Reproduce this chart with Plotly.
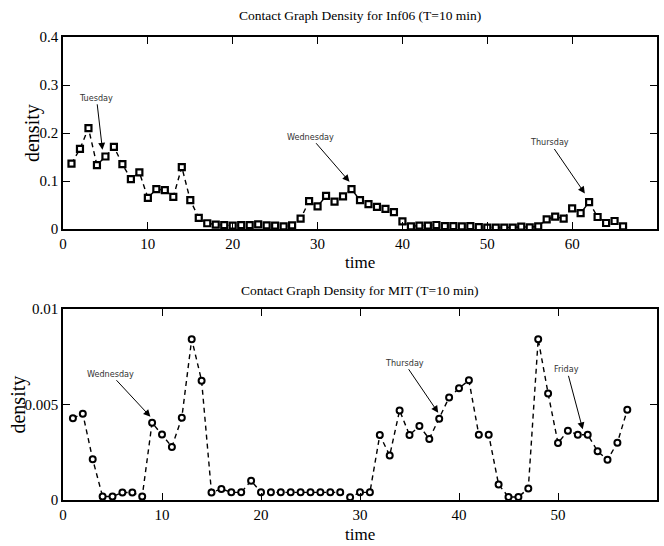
import plotly.graph_objects as go

# Inf06 trace (10-minute windows)
inf_time = list(range(1, 67))
inf_density = [
    0.136, 0.167, 0.210, 0.133, 0.151, 0.171, 0.135, 0.104, 0.118, 0.065,
    0.083, 0.081, 0.067, 0.129, 0.060, 0.023, 0.012, 0.009, 0.008, 0.007,
    0.008, 0.008, 0.0097, 0.0076, 0.007, 0.0056, 0.0076, 0.0215, 0.058, 0.047,
    0.069, 0.057, 0.068, 0.083, 0.060, 0.052, 0.046, 0.042, 0.035, 0.016,
    0.0056, 0.007, 0.007, 0.0083, 0.006, 0.006, 0.0056, 0.006, 0.004, 0.003,
    0.003, 0.003, 0.003, 0.005, 0.0035, 0.0056, 0.020, 0.026, 0.0215, 0.043,
    0.033, 0.056, 0.025, 0.0125, 0.0167, 0.0056,
]

# MIT trace (10-minute windows)
mit_time = list(range(1, 58))
mit_density = [
    0.00428, 0.00452, 0.00213, 0.00018, 0.00018, 0.00039, 0.00039, 0.00018, 0.00405, 0.00343,
    0.00278, 0.00430, 0.00842, 0.00625, 0.00039, 0.00058, 0.00040, 0.00040, 0.00101, 0.00040,
    0.00040, 0.00040, 0.00040, 0.00040, 0.00040, 0.00040, 0.00040, 0.00040, 0.00014, 0.00040,
    0.00040, 0.00340, 0.00233, 0.00469, 0.00340, 0.00387, 0.00320, 0.00425, 0.00537, 0.00585,
    0.00627, 0.00342, 0.00342, 0.00081, 0.00016, 0.00016, 0.00060, 0.00842, 0.00558, 0.00298,
    0.00363, 0.00342, 0.00342, 0.00255, 0.00211, 0.00300, 0.00472,
]

inf_ticks_x = [0, 10, 20, 30, 40, 50, 60, 70]
inf_ticks_y = [0, 0.1, 0.2, 0.3, 0.4]
inf_tick_text_y = ["0", "0.1", "0.2", "0.3", "0.4"]
mit_ticks_x = [0, 10, 20, 30, 40, 50, 60]
mit_ticks_y = [0, 0.005, 0.01]
mit_tick_text_y = ["0", "0.005", "0.01"]

# Day callouts: (label, x, y, ax, ay)
inf_days = [("Tuesday", 4.65, 0.165, -6, -52),
            ("Wednesday", 33.76, 0.0985, -39, -45),
            ("Thursday", 61.5, 0.074, -35, -51)]
mit_days = [("Wednesday", 8.83, 0.00436, -40, -43),
            ("Thursday", 37.9, 0.00457, -34, -50),
            ("Friday", 52.5, 0.0037, -16, -60)]

SERIF = "Liberation Serif, Times New Roman, serif"
NARROW = "Liberation Sans Narrow, Arial Narrow, DejaVu Sans Condensed, sans-serif"

TOP_DOM = [0.5853, 1]
BOT_DOM = [0, 0.4125]

fig = go.Figure()

fig.add_trace(go.Scatter(
    x=inf_time, y=inf_density, mode="lines+markers", xaxis="x", yaxis="y",
    line=dict(color="black", width=1.4, dash="5px,4px"),
    marker=dict(symbol="square", size=6, color="white",
                line=dict(color="black", width=2.2)),
    showlegend=False,
))
fig.add_trace(go.Scatter(
    x=mit_time, y=mit_density, mode="lines+markers", xaxis="x2", yaxis="y2",
    line=dict(color="black", width=1.4, dash="5px,4px"),
    marker=dict(symbol="circle", size=6, color="white",
                line=dict(color="black", width=2)),
    showlegend=False,
))

axis_common = dict(
    showline=True, linecolor="black", linewidth=1.5, mirror="ticks",
    ticks="inside", ticklen=7, tickwidth=1, tickcolor="black",
    showgrid=False, zeroline=False,
    tickfont=dict(family=SERIF, size=15, color="black"),
)

fig.update_layout(
    width=664, height=546,
    margin=dict(l=63, r=5, t=37, b=46),
    paper_bgcolor="white", plot_bgcolor="white",
    xaxis=dict(domain=[0, 1], anchor="y", range=[0, 70], tickvals=inf_ticks_x,
               **axis_common),
    yaxis=dict(domain=TOP_DOM, anchor="x", range=[0, 0.4], tickvals=inf_ticks_y,
               ticktext=inf_tick_text_y, **axis_common),
    xaxis2=dict(domain=[0, 1], anchor="y2", range=[0, 60], tickvals=mit_ticks_x,
                **axis_common),
    yaxis2=dict(domain=BOT_DOM, anchor="x2", range=[0, 0.01], tickvals=mit_ticks_y,
                ticktext=mit_tick_text_y, **axis_common),
)

annotations = []
centered = dict(xref="paper", yref="paper", xanchor="center", yanchor="middle",
                showarrow=False)
# Panel titles
annotations.append(dict(text="Contact Graph Density for Inf06 (T=10 min)",
                        x=0.5, y=TOP_DOM[1], yshift=22,
                        font=dict(family=SERIF, size=13.5, color="black"), **centered))
annotations.append(dict(text="Contact Graph Density for MIT (T=10 min)",
                        x=0.5, y=BOT_DOM[1], yshift=19,
                        font=dict(family=SERIF, size=13.5, color="black"), **centered))
# Axis labels
annotations.append(dict(text="time", x=0.5, y=TOP_DOM[0], yshift=-33,
                        font=dict(family=SERIF, size=17, color="black"), **centered))
annotations.append(dict(text="time", x=0.5, y=BOT_DOM[0], yshift=-34,
                        font=dict(family=SERIF, size=17, color="black"), **centered))
annotations.append(dict(text="density", x=0, y=sum(TOP_DOM) / 2, xshift=-31, textangle=-90,
                        font=dict(family=SERIF, size=20, color="black"), **centered))
annotations.append(dict(text="density", x=0, y=sum(BOT_DOM) / 2, xshift=-44, textangle=-90,
                        font=dict(family=SERIF, size=20, color="black"), **centered))

for ref, days in [(("x", "y"), inf_days), (("x2", "y2"), mit_days)]:
    for label, x, y, ax, ay in days:
        annotations.append(dict(text=label, x=x, y=y, xref=ref[0], yref=ref[1], ax=ax, ay=ay,
                                showarrow=True, arrowhead=2, arrowsize=1.4, arrowwidth=1,
                                arrowcolor="black",
                                font=dict(family=NARROW, size=9, color="#333333")))

fig.update_layout(annotations=annotations)

fig.write_html("out.html")
